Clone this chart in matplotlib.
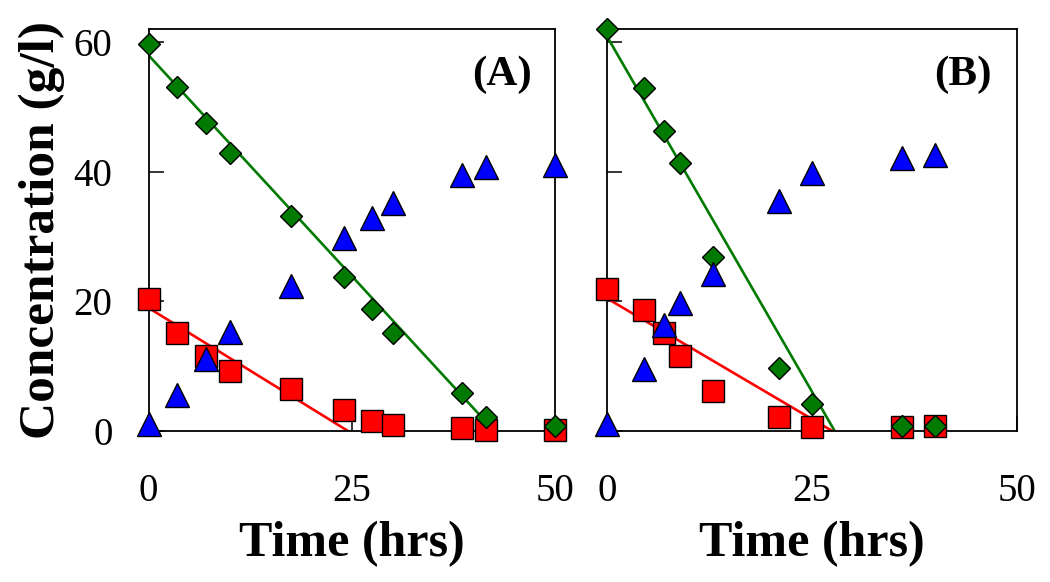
import matplotlib
matplotlib.use("Agg")
import matplotlib.pyplot as plt

plt.rcParams['font.family'] = ['Liberation Serif', 'DejaVu Serif']

# panel A data
tA = [0, 3.5, 7, 10, 17.5, 24, 27.5, 30, 38.5, 41.5, 50]
diamA = [59.8, 53.1, 47.5, 42.9, 33.2, 23.7, 18.8, 15.1, 5.8, 2.2, 0.8]
sqA = [20.4, 15.2, 11.5, 9.2, 6.5, 3.3, 1.6, 0.9, 0.4, 0.1, 0.2]
triA = [1.0, 5.5, 11.1, 15.3, 22.4, 29.8, 32.9, 35.2, 39.5, 40.7, 41.0]
fitA_green_x = [0, 42.5]
fitA_green_y = [58, 0]
fitA_red_x = [0, 24.5]
fitA_red_y = [19, 0]

# panel B data
tB = [0, 4.5, 7, 9, 13, 21, 25, 36, 40]
diamB = [62.0, 53.0, 46.3, 41.3, 26.8, 9.7, 4.2, 0.7, 0.8]
sqB = [21.9, 18.7, 15.1, 11.6, 6.2, 2.2, 0.6, 0.6, 0.8]
triB = [1.1, 9.6, 16.4, 19.7, 24.3, 35.5, 39.9, 42.2, 42.6]
fitB_green_x = [0, 27.8]
fitB_green_y = [61, 0]
fitB_red_x = [0, 27.5]
fitB_red_y = [20.5, 0]

fig = plt.figure(figsize=(10.5, 5.82), dpi=100)
axA = fig.add_axes([0.1415, 0.2595, 0.3875, 0.690])
axB = fig.add_axes([0.5778, 0.2595, 0.3905, 0.690])

panels = [
    (axA, tA, diamA, sqA, triA, fitA_green_x, fitA_green_y, fitA_red_x, fitA_red_y, "(A)"),
    (axB, tB, diamB, sqB, triB, fitB_green_x, fitB_green_y, fitB_red_x, fitB_red_y, "(B)"),
]

for ax, t, d, s, tr, gx, gy, rx, ry, lab in panels:
    ax.plot(gx, gy, color='#007a00', lw=1.9, zorder=2)
    ax.plot(rx, ry, color='#ff0000', lw=1.9, zorder=2)
    ax.plot(t, s, 's', ms=15.5, mfc='#ff0000', mec='black', mew=1.0, clip_on=False, zorder=3)
    ax.plot(t, d, 'D', ms=11.5, mfc='#007a00', mec='black', mew=1.0, clip_on=False, zorder=4)
    ax.plot(t, tr, '^', ms=17, mfc='#0000ff', mec='black', mew=1.0, clip_on=False, zorder=5)
    ax.set_xlim(0, 50)
    ax.set_ylim(0, 62)
    ax.set_xticks([0, 25, 50])
    ax.set_yticks([0, 20, 40, 60])
    ax.tick_params(direction='in', length=11, width=1.1, labelsize=28, pad=26,
                   top=False, right=False)
    ax.tick_params(axis='x', pad=30)
    for sp in ax.spines.values():
        sp.set_linewidth(1.3)
    ax.text(0.868, 0.888, lab, transform=ax.transAxes, ha='center', va='center',
            fontsize=31, fontweight='bold')
    ax.set_xlabel("Time (hrs)", fontsize=36, fontweight='bold', labelpad=8)

axA.set_ylabel("Concentration (g/l)", fontsize=37, fontweight='bold', labelpad=6)
axB.set_yticklabels([])

fig.savefig("out.png", dpi=100)
